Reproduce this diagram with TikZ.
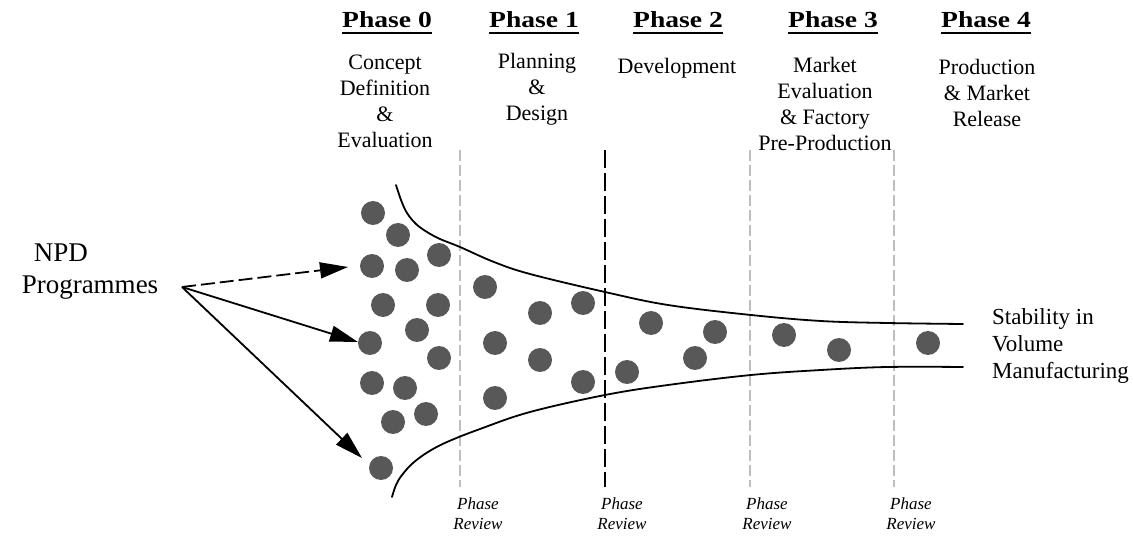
\documentclass[tikz,border=0pt]{standalone}
\usepackage{fontspec}
\setmainfont{Liberation Serif}
\usetikzlibrary{arrows.meta}
\definecolor{dotgray}{RGB}{88,88,88}
\definecolor{lightdash}{RGB}{190,190,190}
\begin{document}
\begin{tikzpicture}[x=1pt,y=-1pt,
  hdr/.style={anchor=base, inner sep=0pt, font=\fontsize{23}{26}\selectfont\bfseries},
  ulin/.style={line width=2.4pt},
  desc/.style={align=center, inner sep=0pt, font=\fontsize{22}{26}\selectfont},
  rev/.style={align=center, inner sep=0pt, font=\fontsize{17}{20}\selectfont\itshape},
  big/.style={inner sep=0pt, font=\fontsize{27}{32}\selectfont},
  dot/.style={circle, fill=dotgray, minimum size=24pt, inner sep=0pt},
  funnel/.style={line width=1.8pt, line cap=round},
  gatelight/.style={draw=lightdash, line width=1.8pt, dash pattern=on 11pt off 4pt},
  gatedark/.style={draw=black, line width=1.6pt, dash pattern=on 18pt off 5pt},
  arr/.style={line width=1.8pt, -{Triangle[length=28pt,width=16pt]}}
]
\fill[white] (0,0) rectangle (1133,537);
\useasboundingbox (0,0) rectangle (1133,537);

% headers
\foreach \x/\n/\t in {387/h0/Phase 0, 534/h1/Phase 1, 678/h2/Phase 2, 833/h3/Phase 3, 986/h4/Phase 4}{
  \node[hdr] (\n) at (\x,28) {\scalebox{1.2}[1]{\t}};
  \draw[ulin] ([yshift=-5pt]\n.base west) -- ([yshift=-5pt]\n.base east);
}

% descriptions
\node[desc] (p0) at (385,101.5) {Concept\\Definition\\\&\\Evaluation};
\node[desc] (p1) at (537,89) {Planning\\\&\\Design};
\node[desc] (p2) at (677,68) {Development};
\node[desc] (p3) at (825,104) {Market\\Evaluation\\\& Factory\\Pre-Production};
\node[desc] (p4) at (987,93) {Production\\\& Market\\Release};

% gates
\draw[gatelight] (460,150) -- (460,487);
\draw[gatedark]  (605,150) -- (605,487);
\draw[gatelight] (750,150) -- (750,487);
\draw[gatelight] (894,150) -- (894,487);

% funnel
\draw[funnel] plot[smooth, tension=0.6] coordinates {(396,185) (401,200) (407,213) (416,224) (427,232) (440,239) (460,247) (494,262) (530,274) (605,292) (668,305) (751,315) (821,321) (887,323) (963,324)};
\draw[funnel] plot[smooth, tension=0.6] coordinates {(392,497) (396,485) (402,475) (413,463) (428,452) (447,442) (480,429) (530,412) (605,395) (668,385) (751,375) (821,370) (887,367) (963,367)};

% dots
\foreach \x/\y [count=\i] in {373/213, 398/235, 439/255, 372/266, 407/270, 383/305, 438/305, 417/330, 370/343, 439/358, 372/383, 405/388, 426/414, 393/422, 381/468,
  485/287, 495/343, 495/398, 540/313, 583/303, 540/360, 583/382,
  651/323, 627/372, 715/332, 695/358, 784/335, 839/350, 928/343}{
  \node[dot] (d\i) at (\x,\y) {};
}

% review labels
\node[rev] (r1) at (478,514) {Phase\\Review};
\node[rev] (r2) at (622,514) {Phase\\Review};
\node[rev] (r3) at (767,514) {Phase\\Review};
\node[rev] (r4) at (911,514) {Phase\\Review};

% left labels and arrows
\node[big] (npd) at (61,253) {NPD};
\node[big] (prog) at (90,288) {Programmes};
\coordinate (src) at (182,287);
\coordinate (t1) at (348,267);
\coordinate (t2) at (358,342);
\coordinate (t3) at (362,458);
\draw[arr, dash pattern=on 14pt off 5pt] (src) -- (t1);
\draw[arr] (src) -- (t2);
\draw[arr] (src) -- (t3);

% right label
\node[align=left, anchor=west, inner sep=0pt, font=\fontsize{23}{27}\selectfont] (stab) at (992,346) {Stability in\\Volume\\Manufacturing};
\end{tikzpicture}
\end{document}
